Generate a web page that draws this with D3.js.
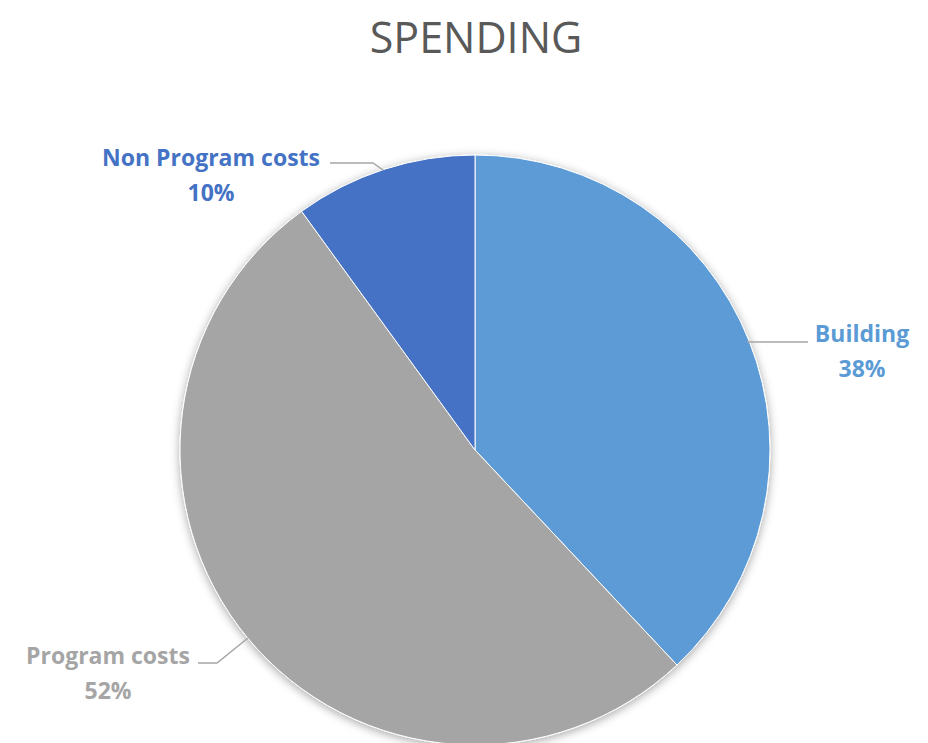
<!DOCTYPE html>
<html>
<head>
<meta charset="utf-8">
<script src="https://cdn.jsdelivr.net/npm/d3@7"></script>
<style>
  body { margin: 0; background: #fff; }
  text { font-family: "Open Sans", "Noto Sans", sans-serif; }
</style>
</head>
<body>
<div id="chart-area"></div>
<script>
// chart data
var categories = ["Building", "Program costs", "Non Program costs"];
var values = [38, 52, 10];
var labels = ["38%", "52%", "10%"];
var colors = ["#5b9bd5", "#a5a5a5", "#4472c4"];

var width = 928, height = 743;
var cx = 475, cy = 450, radius = 295;

var svg = d3.select("#chart-area").append("svg")
    .attr("width", width)
    .attr("height", height);

var defs = svg.append("defs");
var filt = defs.append("filter").attr("id", "shadow")
    .attr("x", "-10%").attr("y", "-10%").attr("width", "120%").attr("height", "120%");
filt.append("feDropShadow")
    .attr("dx", 0).attr("dy", 2)
    .attr("stdDeviation", 5)
    .attr("flood-color", "#000")
    .attr("flood-opacity", 0.35);

svg.append("text")
    .attr("x", 476)
    .attr("y", 53)
    .attr("text-anchor", "middle")
    .attr("fill", "#595959")
    .style("font-size", "43px")
    .text("SPENDING");

var pie = d3.pie().sort(null).value(d => d);
var arcs = pie(values);

var arc = d3.arc().innerRadius(0).outerRadius(radius);

var g = svg.append("g")
    .attr("transform", "translate(" + cx + "," + cy + ")");

g.append("g").attr("filter", "url(#shadow)")
    .selectAll("path")
    .data(arcs)
    .enter()
    .append("path")
    .attr("d", arc)
    .attr("fill", (d, i) => colors[i])
    .attr("stroke", "#fff")
    .attr("stroke-width", 1);

// label positions (relative to pie center), leader line bends
var labelPos = [
    { x: 387, y: -108, line: [[272, -108], [333, -108]] },
    { x: -367, y: 214, line: [[-227, 188], [-258, 213], [-277, 213]] },
    { x: -264, y: -284, line: [[-92, -280], [-102, -287], [-145, -287]] }
];

arcs.forEach(function(d, i) {
    var p = labelPos[i];
    g.append("path")
        .attr("d", d3.line()(p.line))
        .attr("fill", "none")
        .attr("stroke", "#a6a6a6")
        .attr("stroke-width", 1.5);
    var t = g.append("text")
        .attr("x", p.x)
        .attr("y", p.y)
        .attr("text-anchor", "middle")
        .attr("fill", colors[i])
        .style("font-size", "23px")
        .style("font-weight", "bold");
    t.append("tspan").attr("x", p.x).attr("dy", 0).text(categories[i]);
    t.append("tspan").attr("x", p.x).attr("dy", 35).text(labels[i]);
});
</script>
</body>
</html>
